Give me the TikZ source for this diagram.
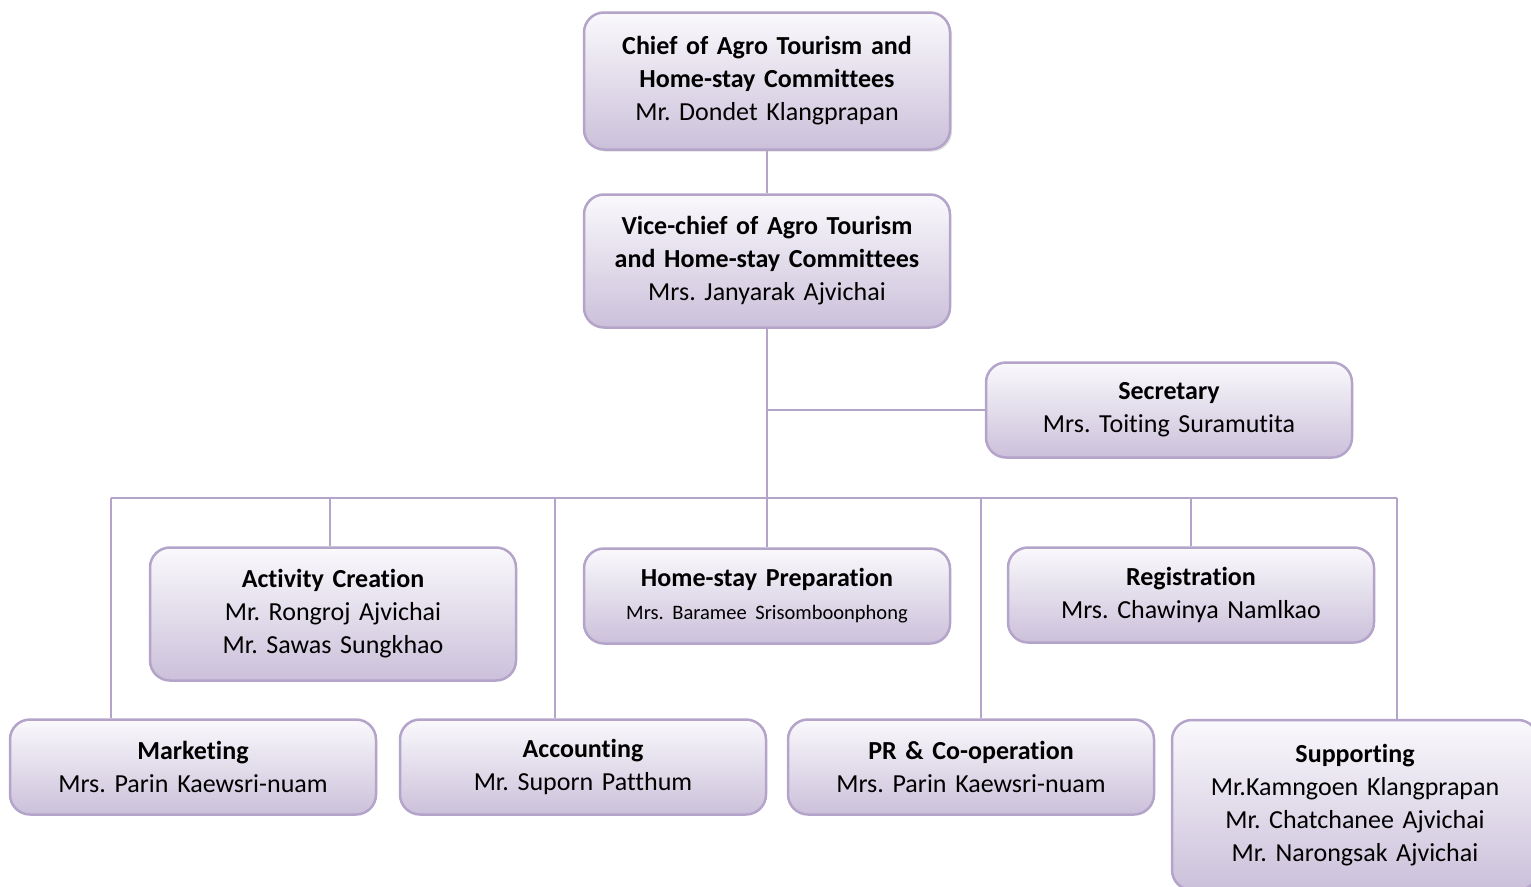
\documentclass[tikz,border=0pt]{standalone}
\usepackage{fontspec}
\setmainfont{Carlito}[Ligatures={NoCommon}]
\usetikzlibrary{shadows}
\definecolor{boxline}{RGB}{180,164,202}
\definecolor{boxbot}{RGB}{203,192,218}
\definecolor{boxtop}{RGB}{250,249,252}
\tikzset{
  orgbox/.style={draw=boxline, line width=2.5pt, rounded corners=20pt,
    top color=boxtop, bottom color=boxbot, minimum width=366pt, minimum height=95pt,
    text width=356pt, align=center, inner sep=0pt,
    font=\frenchspacing\fontsize{26}{33}\selectfont},
  link/.style={draw=boxline, line width=2.5pt}
}
\begin{document}
\begin{tikzpicture}[x=1pt,y=-1pt]
\useasboundingbox (0,0) rectangle (1531,886);
\node[orgbox, minimum height=137pt, drop shadow={opacity=0.25, shadow xshift=2pt, shadow yshift=-2pt}] (chief) at (767,81)
  {\textbf{Chief of Agro Tourism and}\\\textbf{Home-stay Committees}\\Mr. Dondet Klangprapan};
\node[orgbox, minimum height=133pt] (vice) at (767,261)
  {\textbf{Vice-chief of Agro Tourism}\\\textbf{and Home-stay Committees}\\Mrs. Janyarak Ajvichai};
\node[orgbox] (sec) at (1169,410)
  {\textbf{Secretary}\\Mrs. Toiting Suramutita};
\node[orgbox, minimum height=133pt] (act) at (333,614)
  {\textbf{Activity Creation}\\Mr. Rongroj Ajvichai\\Mr. Sawas Sungkhao};
\node[orgbox] (home) at (767,596)
  {\textbf{Home-stay Preparation}\\{\fontsize{20.5}{27}\selectfont Mrs. Baramee Srisomboonphong}};
\node[orgbox] (reg) at (1191,595)
  {\textbf{Registration}\\Mrs. Chawinya Namlkao};
\node[orgbox] (mkt) at (193,767)
  {\textbf{Marketing}\\Mrs. Parin Kaewsri-nuam};
\node[orgbox] (acc) at (583,767)
  {\textbf{Accounting}\\Mr. Suporn Patthum};
\node[orgbox] (pr) at (971,767)
  {\textbf{PR \& Co-operation}\\Mrs. Parin Kaewsri-nuam};
\node[orgbox, minimum height=170pt] (sup) at (1355,805)
  {\textbf{Supporting}\\Mr.Kamngoen Klangprapan\\Mr. Chatchanee Ajvichai\\Mr. Narongsak Ajvichai};
\coordinate (bus) at (767,498);
\coordinate (bL) at (111,498);
\coordinate (bR) at (1397,498);
\draw[link] (chief.south) -- (vice.north);
\draw[link] (vice.south) -- (bus);
\draw[link] (vice.south |- sec.west) -- (sec.west);
\draw[link] (bL) -- (bR);
\draw[link] (bL) -- (bL |- mkt.north);
\draw[link] (act.north -| 330,0) -- (330,498);
\draw[link] (555,498) -- (acc.north -| 555,0);
\draw[link] (bus) -- (home.north);
\draw[link] (981,498) -- (pr.north -| 981,0);
\draw[link] (reg.north) -- (reg.north |- bus);
\draw[link] (bR) -- (bR |- sup.north);
\end{tikzpicture}
\end{document}
